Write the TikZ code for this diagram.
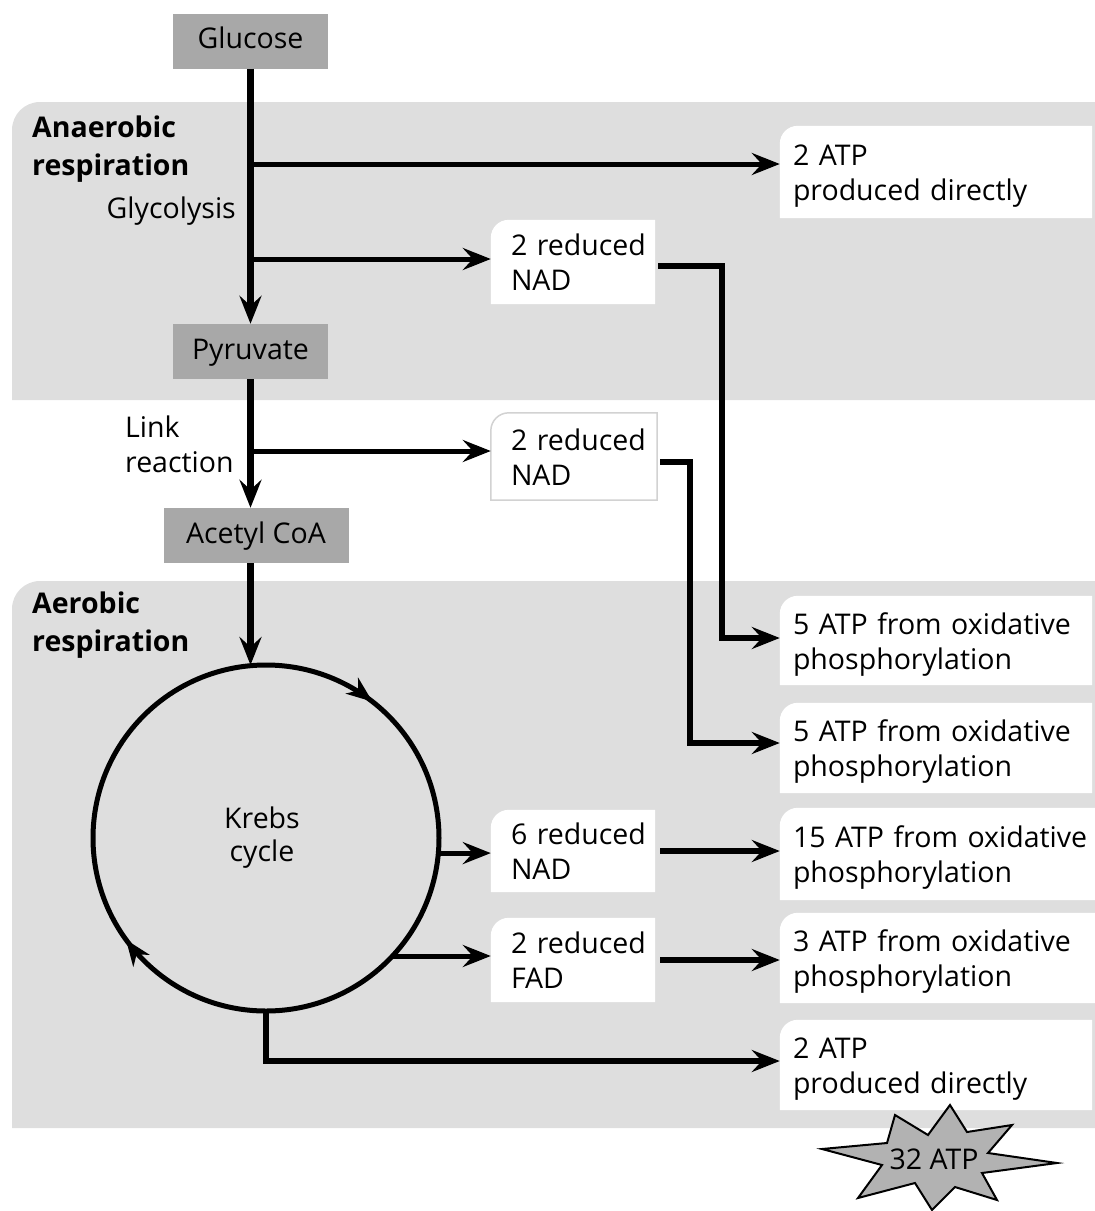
\documentclass[tikz,border=0pt]{standalone}
\usepackage{fontspec}
\setmainfont{Open Sans}
\usetikzlibrary{arrows.meta,backgrounds}
\definecolor{bandgray}{RGB}{222,222,222}
\definecolor{stepgray}{RGB}{168,168,168}
\definecolor{stargray}{RGB}{178,178,178}
\definecolor{edgegray}{RGB}{210,210,210}
% lines of a free label, first baseline at the anchor
\newcommand\lns[1]{\begin{tabular}[t]{@{}l@{}}#1\end{tabular}}
% lines inside a result box
\newcommand\boxlines[1]{\raisebox{-4pt}[\height][\depth]{\begin{tabular}{@{}l@{}}#1\end{tabular}}}
% outline of a box whose top-left corner is rounded (radius 18pt)
\newcommand\tabshape[1]{%
  ([yshift=-18pt]#1.north west) .. controls ([yshift=-8pt]#1.north west) and ([xshift=8pt]#1.north west)
  .. ([xshift=18pt]#1.north west)
  -- (#1.north east) -- (#1.south east) -- (#1.south west) -- cycle}
\begin{document}
\begin{tikzpicture}[x=1pt,y=-1pt,
  every node/.style={font=\fontsize{28.5}{35}\selectfont},
  stepbox/.style={fill=stepgray, minimum height=55pt, inner sep=0pt, text height=21pt, text depth=6pt},
  outbox/.style n args={3}{minimum width=#1, minimum height=#2, text width=#3, inner sep=0pt, align=left},
  region/.style={font=\fontsize{28.5}{38.5}\selectfont\bfseries, inner sep=0pt, anchor=base west},
  label/.style={inner sep=0pt},
  tipped/.style={-{Stealth[length=28pt,width=22pt,inset=10pt]}},
  mainline/.style={line width=7pt, tipped},
  branch/.style={line width=5pt, tipped},
  conn/.style={line width=6pt, tipped},
  cyc/.style={line width=5pt, -{Stealth[length=26pt,width=20pt,inset=8pt]}}
]
\useasboundingbox (0,0) rectangle (1095,1211);

% stages of glucose breakdown
\node[stepbox, minimum width=155pt] (glucose) at (250.5,41) {Glucose};
\node[stepbox, minimum width=155pt] (pyruvate) at (250.5,351.5) {Pyruvate};
\node[stepbox, minimum width=185pt] (acetyl) at (256,535.5) {Acetyl CoA};

% region and step labels
\node[region] (anaer) at (32,137) {\lns{Anaerobic\\respiration}};
\node[region] (aer) at (32,613) {\lns{Aerobic\\respiration}};
\node[label, anchor=base east] (glyco) at (236,218) {Glycolysis};
\node[label, anchor=base west] (link) at (125,437) {\lns{Link\\reaction}};

% Krebs cycle
\node[draw, circle, line width=5pt, minimum size=346pt, inner sep=0pt, outer sep=0pt,
      align=center, font=\fontsize{28.5}{33}\selectfont] (krebs) at (266,838) {\hspace*{-8pt}Krebs\\\hspace*{-8pt}cycle};
\draw[cyc] (363.0,694.3) -- (372.5,701.7);
\draw[cyc] (133.1,949.4) -- (126.0,939.7);

% result boxes
\node[outbox={312pt}{92pt}{286pt}] (atp1) at (936,172) {\boxlines{2 ATP\\produced directly}};
\node[outbox={164pt}{84pt}{124pt}] (nad1) at (573,262) {\boxlines{2 reduced\\NAD}};
\node[outbox={166pt}{87pt}{126pt}] (nad2) at (574,456.5) {\boxlines{2 reduced\\NAD}};
\node[outbox={312pt}{89pt}{286pt}] (atp2) at (936,640.5) {\boxlines{5 ATP from oxidative\\phosphorylation}};
\node[outbox={312pt}{90pt}{286pt}] (atp3) at (936,748) {\boxlines{5 ATP from oxidative\\phosphorylation}};
\node[outbox={164pt}{82pt}{124pt}] (nad3) at (573,851) {\boxlines{6 reduced\\NAD}};
\node[outbox={315pt}{92pt}{289pt}] (atp4) at (937.5,854) {\boxlines{15 ATP from oxidative\\phosphorylation}};
\node[outbox={164pt}{84pt}{124pt}] (fad) at (573,960) {\boxlines{2 reduced\\FAD}};
\node[outbox={315pt}{90pt}{289pt}] (atp5) at (937.5,958) {\boxlines{3 ATP from oxidative\\phosphorylation}};
\node[outbox={312pt}{90pt}{286pt}] (atp6) at (936,1065) {\boxlines{2 ATP\\produced directly}};

% total yield
\filldraw[fill=stargray, draw=black, line width=2pt, line join=miter]
  (822,1149) -- (887,1143) -- (895,1115) -- (928,1135) -- (950,1105) -- (967,1132)
  -- (1012,1125) -- (988,1153) -- (1057,1163) -- (982,1173) -- (997,1200)
  -- (955,1187) -- (932,1210) -- (915,1183) -- (858,1198) -- (882,1165) -- cycle;
\node[inner sep=0pt] (total) at (934,1159) {32 ATP};

% main pathway
\coordinate (gA) at (250.5,164);
\coordinate (gB) at (250.5,259);
\coordinate (lk) at (250.5,451);
\draw[mainline] (glucose.south) -- (pyruvate.north);
\draw[mainline] (pyruvate.south) -- (pyruvate.south |- acetyl.north);
\draw[mainline] (acetyl.south -| pyruvate.south) -- (pyruvate.south |- krebs.north);

% products of glycolysis and the link reaction
\draw[branch] (gA) -- (gA -| atp1.west);
\draw[branch] (gB) -- (gB -| nad1.west);
\draw[branch] (lk) -- (lk -| nad2.west);
\draw[conn] ([xshift=3pt,yshift=-4pt]nad1.east) -- ++(64,0) |- ([yshift=2.5pt]atp2.west);
\draw[conn] ([xshift=3pt,yshift=-5.5pt]nad2.east) -- ++(30,0) |- ([yshift=5pt]atp3.west);

% products of the Krebs cycle
\draw[branch] (krebs.-5) -- (krebs.-5 -| nad3.west);
\draw[branch] (krebs.-43) -- (krebs.-43 -| fad.west);
\draw[conn] ([xshift=5pt]nad3.east) -- (nad3.east -| atp4.west);
\draw[conn] ([xshift=5pt]fad.east) -- (fad.east -| atp5.west);
\draw[conn] (krebs.south) |- ([yshift=4pt]atp6.west);

% shaded regions and box backgrounds
\begin{scope}[on background layer]
  \fill[bandgray] (12,400) -- (12,130) .. controls (12,114.5) and (24.5,102) .. (40,102)
    -- (1100,102) -- (1100,400) -- cycle;
  \fill[bandgray] (12,1128) -- (12,609) .. controls (12,593.5) and (24.5,581) .. (40,581)
    -- (1100,581) -- (1100,1128) -- cycle;
  \foreach \bx in {atp1,nad1,atp2,atp3,nad3,atp4,fad,atp5,atp6}
    \fill[white] \tabshape{\bx};
  \filldraw[fill=white, draw=edgegray, line width=1.5pt] \tabshape{nad2};
\end{scope}
\end{tikzpicture}
\end{document}
